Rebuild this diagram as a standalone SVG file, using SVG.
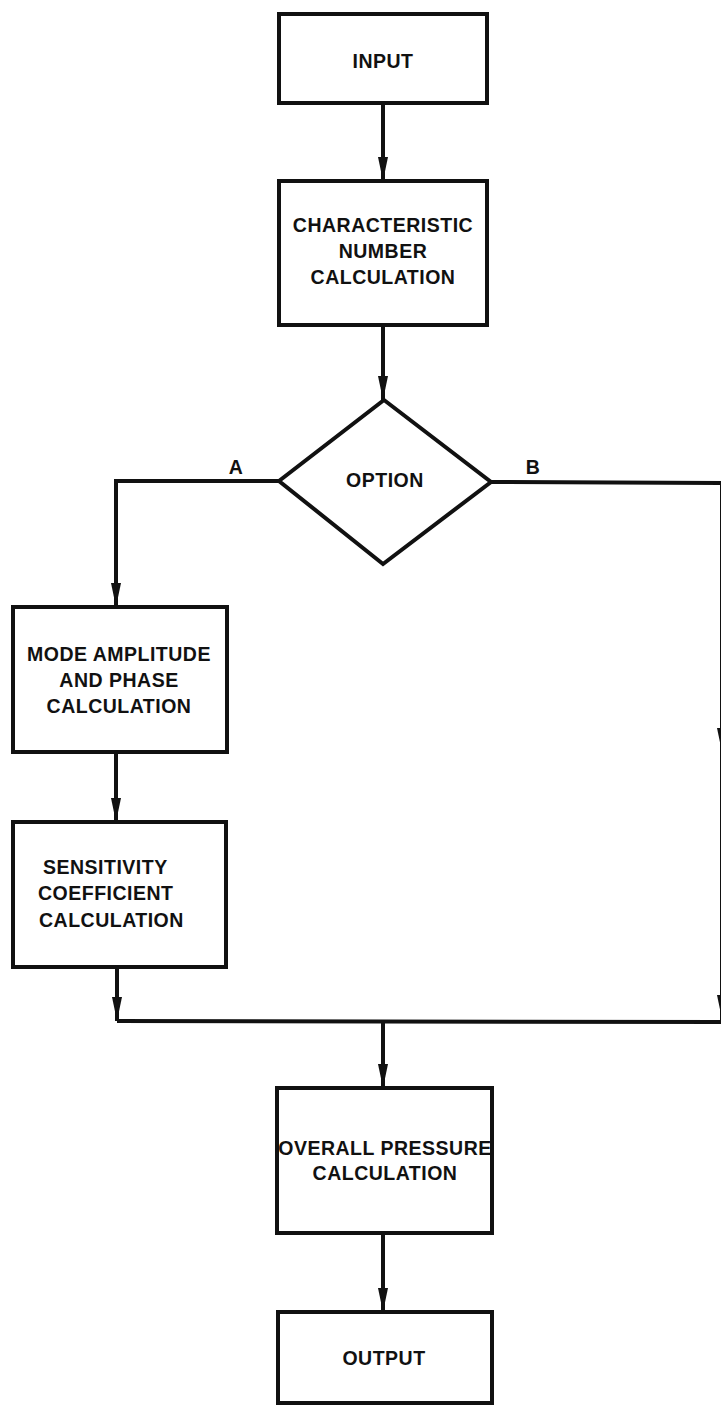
<svg xmlns="http://www.w3.org/2000/svg" width="721" height="1406" viewBox="0 0 721 1406">
<style>
.box{fill:#fff;stroke:#111;stroke-width:4;stroke-linejoin:miter}
.ln{fill:none;stroke:#111;stroke-width:4;stroke-linejoin:miter}
.t{font-family:"Liberation Sans",Arial,sans-serif;font-weight:bold;font-size:19.5px;letter-spacing:0.5px;fill:#111;text-anchor:middle}
.ts{font-family:"Liberation Sans",Arial,sans-serif;font-weight:bold;font-size:19.5px;letter-spacing:0.5px;fill:#111;text-anchor:start}
.ah{fill:#111}
</style>
<defs>
<marker id="arr" markerUnits="userSpaceOnUse" markerWidth="24" markerHeight="12" viewBox="0 0 24 12" refX="24" refY="6" orient="auto">
<path d="M0,1 L24,6 L0,11 Z" fill="#111"/>
</marker>
</defs>
<rect width="721" height="1406" fill="#fff"/>
<g id="connectors">
<line class="ln" x1="383" y1="103" x2="383" y2="181" marker-end="url(#arr)"/>
<line class="ln" x1="383" y1="325" x2="383" y2="400" marker-end="url(#arr)"/>
<polyline class="ln" points="279,481 116,481 116,607" marker-end="url(#arr)"/>
<polyline class="ln" points="491,482 722,483 722,1022"/>
<polygon class="ah" points="717,728 727,728 722,752"/>
<polygon class="ah" points="717,995 727,995 722,1019"/>
<line class="ln" x1="116" y1="752" x2="116" y2="822" marker-end="url(#arr)"/>
<line class="ln" x1="117" y1="967" x2="117" y2="1021" marker-end="url(#arr)"/>
<line class="ln" x1="117" y1="1021" x2="722" y2="1022"/>
<line class="ln" x1="383" y1="1022" x2="383" y2="1088" marker-end="url(#arr)"/>
<line class="ln" x1="383" y1="1233" x2="383" y2="1312" marker-end="url(#arr)"/>
<text class="t" x="236" y="474">A</text>
<text class="t" x="533" y="474">B</text>
</g>
<g id="input">
<rect class="box" x="279" y="14" width="208" height="89"/>
<text class="t" x="383" y="68">INPUT</text>
</g>
<g id="characteristic">
<rect class="box" x="279" y="181" width="208" height="144"/>
<text class="t" x="383" y="232">CHARACTERISTIC</text>
<text class="t" x="383" y="258">NUMBER</text>
<text class="t" x="383" y="284">CALCULATION</text>
</g>
<g id="option">
<polygon class="box" points="384,400 491,482 383,564 279,481"/>
<text class="t" x="385" y="487">OPTION</text>
</g>
<g id="mode">
<rect class="box" x="13" y="607" width="214" height="145"/>
<text class="t" x="119" y="661">MODE AMPLITUDE</text>
<text class="t" x="119" y="687">AND PHASE</text>
<text class="t" x="119" y="713">CALCULATION</text>
</g>
<g id="sensitivity">
<rect class="box" x="13" y="822" width="213" height="145"/>
<text class="ts" x="43" y="874">SENSITIVITY</text>
<text class="ts" x="38" y="900">COEFFICIENT</text>
<text class="ts" x="39" y="927">CALCULATION</text>
</g>
<g id="overall">
<rect class="box" x="277" y="1088" width="215" height="145"/>
<text class="t" x="385" y="1155">OVERALL PRESSURE</text>
<text class="t" x="385" y="1180">CALCULATION</text>
</g>
<g id="output">
<rect class="box" x="278" y="1312" width="214" height="91"/>
<text class="t" x="384" y="1365">OUTPUT</text>
</g>
</svg>
